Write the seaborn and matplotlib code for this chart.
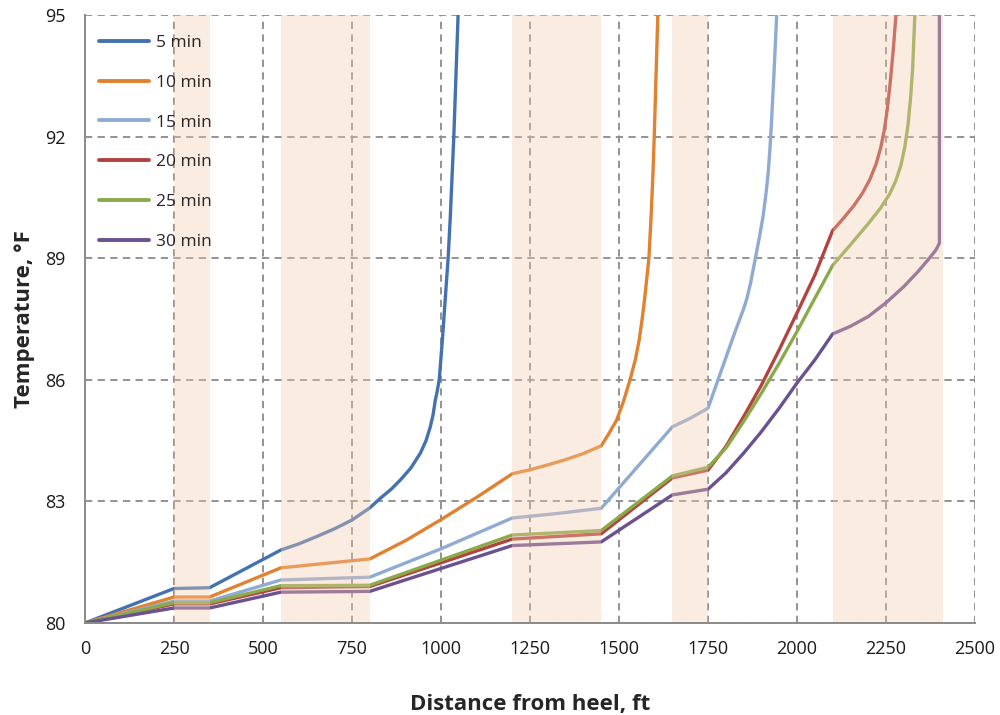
import matplotlib
matplotlib.use("Agg")
import matplotlib.pyplot as plt
import seaborn as sns
import pandas as pd

# ---- data ----
series_names = ["5 min", "10 min", "15 min", "20 min", "25 min", "30 min"]

x5 = [0, 250, 350, 550, 600, 650, 700, 750, 800, 830, 860, 886, 915, 942, 958, 970, 978, 984, 989, 995,
      1004, 1012, 1020, 1026, 1031, 1036, 1042, 1048]
y5 = [80, 80.85, 80.87, 81.8, 81.95, 82.13, 82.32, 82.54, 82.84, 83.08, 83.3, 83.53, 83.82, 84.19, 84.5, 84.84, 85.15, 85.5, 85.7, 86.0,
      87.0, 88.0, 89.0, 90.0, 91.0, 92.0, 93.5, 95]

x10 = [0, 250, 350, 550, 800, 900, 1000, 1100, 1200, 1250, 1300, 1350, 1400, 1450, 1470, 1493, 1512, 1531, 1546,
       1557, 1565, 1572, 1578, 1584, 1590, 1595, 1599, 1604, 1609]
y10 = [80, 80.64, 80.64, 81.36, 81.58, 82.03, 82.55, 83.1, 83.68, 83.78, 83.9, 84.03, 84.18, 84.37, 84.65, 85.0, 85.45, 86.0, 86.5,
       87.0, 87.5, 88.0, 88.5, 89.0, 90.0, 91.0, 92.0, 93.5, 95]

x15 = [0, 250, 350, 550, 800, 1000, 1200, 1325, 1450, 1650, 1700, 1750, 1775, 1800, 1825, 1850, 1859, 1870, 1882,
       1894, 1905, 1913, 1919, 1924, 1928, 1935, 1943]
y15 = [80, 80.54, 80.54, 81.06, 81.13, 81.83, 82.59, 82.7, 82.83, 84.84, 85.05, 85.3, 85.92, 86.54, 87.16, 87.75, 88.0, 88.4, 88.95,
       89.5, 90.05, 90.6, 91.1, 91.7, 92.3, 93.5, 95]

x20 = [0, 250, 350, 550, 800, 1200, 1450, 1650, 1750, 1800, 1850, 1900, 1950, 2000, 2050, 2100, 2130, 2160, 2185,
       2205, 2222, 2235, 2245, 2254, 2262, 2270, 2278]
y20 = [80, 80.47, 80.47, 80.87, 80.9, 82.07, 82.2, 83.58, 83.77, 84.35, 85.09, 85.87, 86.74, 87.65, 88.58, 89.68, 89.98, 90.3, 90.62,
       90.95, 91.32, 91.72, 92.15, 92.7, 93.35, 94.1, 95]

x25 = [0, 250, 350, 550, 800, 1200, 1450, 1650, 1750, 1800, 1850, 1900, 1950, 2000, 2050, 2100, 2150, 2200, 2235,
       2260, 2278, 2292, 2303, 2312, 2319, 2325, 2331]
y25 = [80, 80.5, 80.5, 80.92, 80.93, 82.17, 82.28, 83.63, 83.84, 84.31, 84.97, 85.67, 86.41, 87.19, 88.01, 88.82, 89.33, 89.85, 90.24,
       90.58, 90.92, 91.3, 91.75, 92.3, 92.95, 93.7, 95]

x30 = [0, 250, 350, 550, 800, 1200, 1450, 1650, 1750, 1800, 1850, 1900, 1950, 2000, 2050, 2100, 2150, 2200, 2250,
       2300, 2340, 2370, 2390, 2400, 2400]
y30 = [80, 80.37, 80.37, 80.76, 80.78, 81.91, 82.0, 83.16, 83.3, 83.7, 84.19, 84.72, 85.3, 85.92, 86.49, 87.13, 87.32, 87.56, 87.9,
       88.3, 88.67, 88.98, 89.2, 89.37, 95]

band_starts = [250, 550, 1200, 1650, 2100]
band_ends = [350, 800, 1450, 1750, 2410]

x_ticks = [0, 250, 500, 750, 1000, 1250, 1500, 1750, 2000, 2250, 2500]
y_ticks = [80, 83, 86, 89, 92, 95]

colors = ["#4472B0", "#E0822F", "#8FAAD3", "#B3433F", "#8AAA4A", "#6B5190"]

# ---- long-form table ----
xs = [x5, x10, x15, x20, x25, x30]
ys = [y5, y10, y15, y20, y25, y30]
rows = []
for name, xx, yy in zip(series_names, xs, ys):
    for a, b in zip(xx, yy):
        rows.append({"dist": a, "temp": b, "series": name})
df = pd.DataFrame(rows)

sns.set_style("white")
plt.rcParams["font.family"] = ["Open Sans", "DejaVu Sans"]

fig = plt.figure(figsize=(10, 7.15), dpi=100)
ax = fig.add_axes([0.085, 0.1287, 0.89, 0.8503])

sns.lineplot(data=df, x="dist", y="temp", hue="series", hue_order=series_names,
             palette=colors, sort=False, estimator=None, units="series",
             linewidth=2.4, ax=ax, legend=False, zorder=3)
for ln in ax.lines:
    ln.set_solid_joinstyle("round")
    ln.set_solid_capstyle("butt")

for s, e in zip(band_starts, band_ends):
    ax.axvspan(s, e, ymin=0, ymax=1, color="#F5CBAE", alpha=0.36, lw=0, zorder=4)

ax.set_xlim(0, 2500)
ax.set_ylim(80, 95)
ax.set_xticks(x_ticks)
ax.set_yticks(y_ticks)
ax.set_xticklabels([str(t) for t in x_ticks])
ax.set_yticklabels([str(t) for t in y_ticks])

ax.grid(True, color="#8A8A8A", linestyle=(0, (4, 3)), linewidth=1.3, zorder=1)
ax.set_axisbelow(True)
for sp in ["top", "right"]:
    ax.spines[sp].set_visible(False)
for sp in ["left", "bottom"]:
    ax.spines[sp].set_color("#8A8A8A")
    ax.spines[sp].set_linewidth(1.4)
    ax.spines[sp].set_zorder(5)

ax.tick_params(axis="both", which="major", direction="out", length=5, width=1.2,
               color="#8A8A8A", labelsize=13, labelcolor="#1a1a1a")
ax.tick_params(axis="x", pad=7)
ax.tick_params(axis="y", pad=9)

ax.set_xlabel("Distance from heel, ft", fontsize=16, fontweight="bold", labelpad=26)
ax.set_ylabel("Temperature, °F", fontsize=16, fontweight="bold", labelpad=7)

handles = [plt.Line2D([], [], color=c, lw=2.8) for c in colors]
leg = ax.legend(handles, series_names, loc="upper left", bbox_to_anchor=(-0.002, 0.993),
                frameon=False, fontsize=12.5, handlelength=2.9, handletextpad=0.4,
                labelspacing=1.36, borderaxespad=0.5)
leg.set_zorder(6)

fig.savefig("out.png", dpi=100)
